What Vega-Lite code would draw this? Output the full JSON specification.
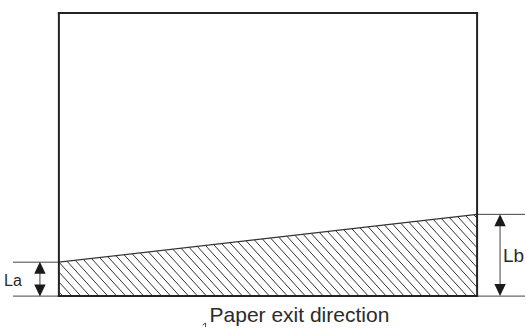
{
  "$schema": "https://vega.github.io/schema/vega-lite/v6.json",
  "width": 526,
  "height": 328,
  "autosize": {"type": "fit", "contains": "padding"},
  "padding": 0,
  "background": "white",
  "config": {"view": {"stroke": null}},
  "datasets": {
    "hatch": [
      {"x": 59, "y": 292.6, "x2": 63, "y2": 297},
      {"x": 59, "y": 282.7, "x2": 72, "y2": 297},
      {"x": 59, "y": 272.8, "x2": 81, "y2": 297},
      {"x": 59.1, "y": 263.0, "x2": 90, "y2": 297},
      {"x": 67.2, "y": 262.1, "x2": 99, "y2": 297},
      {"x": 75.4, "y": 261.1, "x2": 108, "y2": 297},
      {"x": 83.5, "y": 260.2, "x2": 117, "y2": 297},
      {"x": 91.7, "y": 259.3, "x2": 126, "y2": 297},
      {"x": 99.8, "y": 258.3, "x2": 135, "y2": 297},
      {"x": 108.0, "y": 257.4, "x2": 144, "y2": 297},
      {"x": 116.2, "y": 256.5, "x2": 153, "y2": 297},
      {"x": 124.3, "y": 255.5, "x2": 162, "y2": 297},
      {"x": 132.5, "y": 254.6, "x2": 171, "y2": 297},
      {"x": 140.6, "y": 253.7, "x2": 180, "y2": 297},
      {"x": 148.8, "y": 252.7, "x2": 189, "y2": 297},
      {"x": 156.9, "y": 251.8, "x2": 198, "y2": 297},
      {"x": 165.1, "y": 250.9, "x2": 207, "y2": 297},
      {"x": 173.2, "y": 249.9, "x2": 216, "y2": 297},
      {"x": 181.4, "y": 249.0, "x2": 225, "y2": 297},
      {"x": 189.5, "y": 248.1, "x2": 234, "y2": 297},
      {"x": 197.7, "y": 247.2, "x2": 243, "y2": 297},
      {"x": 205.8, "y": 246.2, "x2": 252, "y2": 297},
      {"x": 214.0, "y": 245.3, "x2": 261, "y2": 297},
      {"x": 222.1, "y": 244.4, "x2": 270, "y2": 297},
      {"x": 230.3, "y": 243.4, "x2": 279, "y2": 297},
      {"x": 238.4, "y": 242.5, "x2": 288, "y2": 297},
      {"x": 246.6, "y": 241.6, "x2": 297, "y2": 297},
      {"x": 254.8, "y": 240.6, "x2": 306, "y2": 297},
      {"x": 262.9, "y": 239.7, "x2": 315, "y2": 297},
      {"x": 271.1, "y": 238.8, "x2": 324, "y2": 297},
      {"x": 279.2, "y": 237.8, "x2": 333, "y2": 297},
      {"x": 287.4, "y": 236.9, "x2": 342, "y2": 297},
      {"x": 295.5, "y": 236.0, "x2": 351, "y2": 297},
      {"x": 303.7, "y": 235.0, "x2": 360, "y2": 297},
      {"x": 311.8, "y": 234.1, "x2": 369, "y2": 297},
      {"x": 320.0, "y": 233.2, "x2": 378, "y2": 297},
      {"x": 328.1, "y": 232.2, "x2": 387, "y2": 297},
      {"x": 336.3, "y": 231.3, "x2": 396, "y2": 297},
      {"x": 344.4, "y": 230.4, "x2": 405, "y2": 297},
      {"x": 352.6, "y": 229.5, "x2": 414, "y2": 297},
      {"x": 360.7, "y": 228.5, "x2": 423, "y2": 297},
      {"x": 368.9, "y": 227.6, "x2": 432, "y2": 297},
      {"x": 377.0, "y": 226.7, "x2": 441, "y2": 297},
      {"x": 385.2, "y": 225.7, "x2": 450, "y2": 297},
      {"x": 393.4, "y": 224.8, "x2": 459, "y2": 297},
      {"x": 401.5, "y": 223.9, "x2": 468, "y2": 297},
      {"x": 409.7, "y": 222.9, "x2": 477, "y2": 297},
      {"x": 417.8, "y": 222.0, "x2": 478, "y2": 288.2},
      {"x": 426.0, "y": 221.1, "x2": 478, "y2": 278.3},
      {"x": 434.1, "y": 220.1, "x2": 478, "y2": 268.4},
      {"x": 442.3, "y": 219.2, "x2": 478, "y2": 258.5},
      {"x": 450.4, "y": 218.3, "x2": 478, "y2": 248.6},
      {"x": 458.6, "y": 217.3, "x2": 478, "y2": 238.7},
      {"x": 466.7, "y": 216.4, "x2": 478, "y2": 228.8},
      {"x": 474.9, "y": 215.5, "x2": 478, "y2": 218.9}
    ],
    "frame": [
      {"x": 59, "y": 13, "x2": 478, "y2": 13},
      {"x": 59, "y": 13, "x2": 59, "y2": 297},
      {"x": 478, "y": 13, "x2": 478, "y2": 297},
      {"x": 59, "y": 297, "x2": 478, "y2": 297}
    ],
    "slope": [
      {"x": 59, "y": 263, "x2": 478, "y2": 215}
    ],
    "dims": [
      {"x": 13, "y": 263, "x2": 59, "y2": 263},
      {"x": 13, "y": 297, "x2": 59, "y2": 297},
      {"x": 40, "y": 265, "x2": 40, "y2": 295},
      {"x": 478, "y": 215, "x2": 526, "y2": 215},
      {"x": 478, "y": 297, "x2": 526, "y2": 297},
      {"x": 501, "y": 217, "x2": 501, "y2": 295},
      {"x": 206, "y": 324, "x2": 206, "y2": 328},
      {"x": 203, "y": 326, "x2": 206, "y2": 324}
    ],
    "arrows": [
      {"dir": "up", "x": 40, "y": 268.5},
      {"dir": "down", "x": 40, "y": 291.5},
      {"dir": "up", "x": 501, "y": 221},
      {"dir": "down", "x": 501, "y": 291}
    ],
    "labels": [
      {"label": "La", "x": 13, "y": 287},
      {"label": "Lb", "x": 514.5, "y": 263},
      {"label": "Paper exit direction", "x": 300, "y": 322.5}
    ]
  },
  "encoding": {
    "x": {"field": "x", "type": "quantitative", "scale": {"domain": [0, 526], "nice": false, "zero": false}, "axis": null},
    "y": {"field": "y", "type": "quantitative", "scale": {"domain": [0, 328], "nice": false, "zero": false, "reverse": true}, "axis": null}
  },
  "layer": [
    {
      "data": {"name": "hatch"},
      "mark": {"type": "rule", "stroke": "#333333", "strokeWidth": 1},
      "encoding": {"x2": {"field": "x2"}, "y2": {"field": "y2"}}
    },
    {
      "data": {"name": "slope"},
      "mark": {"type": "rule", "stroke": "#333333", "strokeWidth": 1.2},
      "encoding": {"x2": {"field": "x2"}, "y2": {"field": "y2"}}
    },
    {
      "data": {"name": "dims"},
      "mark": {"type": "rule", "stroke": "#444444", "strokeWidth": 1},
      "encoding": {"x2": {"field": "x2"}, "y2": {"field": "y2"}}
    },
    {
      "data": {"name": "frame"},
      "mark": {"type": "rule", "stroke": "#222222", "strokeWidth": 2, "strokeCap": "square"},
      "encoding": {"x2": {"field": "x2"}, "y2": {"field": "y2"}}
    },
    {
      "data": {"name": "arrows"},
      "transform": [{"filter": "datum.dir == 'up'"}],
      "mark": {"type": "point", "shape": "M0,-1L0.95,1L-0.95,1Z", "size": 144, "filled": true, "fill": "#1a1a1a", "opacity": 1, "strokeWidth": 0}
    },
    {
      "data": {"name": "arrows"},
      "transform": [{"filter": "datum.dir == 'down'"}],
      "mark": {"type": "point", "shape": "M0,1L0.95,-1L-0.95,-1Z", "size": 144, "filled": true, "fill": "#1a1a1a", "opacity": 1, "strokeWidth": 0}
    },
    {
      "data": {"name": "labels"},
      "transform": [{"filter": "datum.label == 'La'"}],
      "mark": {"type": "text", "font": "Liberation Sans", "fontSize": 16, "align": "center", "baseline": "alphabetic", "fill": "#2b2b2b"},
      "encoding": {"text": {"field": "label"}}
    },
    {
      "data": {"name": "labels"},
      "transform": [{"filter": "datum.label == 'Lb'"}],
      "mark": {"type": "text", "font": "Liberation Sans", "fontSize": 19, "align": "center", "baseline": "alphabetic", "fill": "#2b2b2b"},
      "encoding": {"text": {"field": "label"}}
    },
    {
      "data": {"name": "labels"},
      "transform": [{"filter": "datum.label == 'Paper exit direction'"}],
      "mark": {"type": "text", "font": "Liberation Sans", "fontSize": 21, "align": "center", "baseline": "alphabetic", "fill": "#2b2b2b"},
      "encoding": {"text": {"field": "label"}}
    }
  ]
}
